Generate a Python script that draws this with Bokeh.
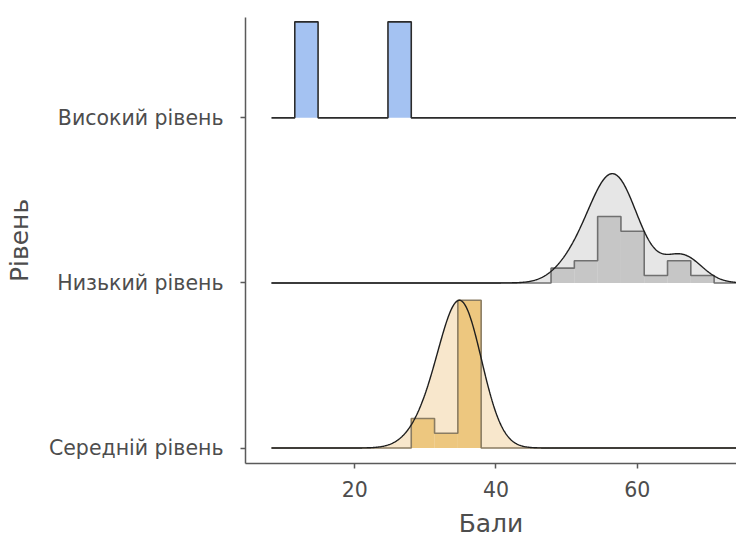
import numpy as np
from bokeh.plotting import figure
from bokeh.models import Range1d, FixedTicker
from bokeh.embed import file_html
from bokeh.resources import INLINE

# Levels, bottom to top
levels = ["Середній рівень", "Низький рівень", "Високий рівень"]

# Individual scores per level
scores_medium = [30.5, 31.2, 34.4,
                 34.6, 34.7, 34.8, 34.9, 35.0, 35.1, 35.3, 35.5, 35.8, 36.2]
scores_low = [50.0, 50.9,
              52.6, 53.5, 54.2,
              54.5, 54.8, 55.1, 55.4, 55.7, 56.0, 56.4, 56.8, 57.3,
              57.7, 57.8, 58.0, 58.2, 58.5, 59.0, 59.8,
              61.1,
              65.6, 66.0, 66.4,
              67.7]
scores_high = [13.0, 26.0]

x_ticks = [20, 40, 60]

# Histogram / density settings
BIN_START, BIN_WIDTH = 11.5, 3.3
RIDGE_SCALE = 0.895

edges = BIN_START + BIN_WIDTH * np.arange(-1, 20)
grid = np.linspace(edges[0], edges[-1], 800)


def kde(values, bw):
    v = np.asarray(values, dtype=float)
    z = (grid[:, None] - v[None, :]) / bw
    return np.exp(-0.5 * z ** 2).sum(axis=1) / (len(v) * bw * np.sqrt(2 * np.pi))


def hist_density(values):
    counts, _ = np.histogram(values, bins=edges)
    return counts / (len(values) * BIN_WIDTH)


rows = [
    dict(scores=scores_medium, pos=0, bw=2.9,
         dens_fill="#F8E7CC", hist_fill="#EDC77F", hist_line="#8a7c62"),
    dict(scores=scores_low, pos=1, bw=2.6,
         dens_fill="#E6E6E6", hist_fill="#C6C6C6", hist_line="#707070"),
    dict(scores=scores_high, pos=2, bw=None,
         dens_fill=None, hist_fill="#A4C2F2", hist_line="#2b2b2b"),
]

for r in rows:
    r["hist"] = hist_density(r["scores"])
    r["dens"] = kde(r["scores"], r["bw"]) if r["bw"] else None

hist_max = max(r["hist"].max() for r in rows)
dens_max = max(r["dens"].max() for r in rows if r["dens"] is not None)

p = figure(width=736, height=540,
           x_range=Range1d(4.52, 74.07), y_range=Range1d(-0.0938, 2.608),
           output_backend="svg", toolbar_location=None,
           min_border_left=245, min_border_right=0,
           min_border_top=17, min_border_bottom=77)

p.background_fill_color = "white"
p.border_fill_color = "white"
p.outline_line_color = None
p.xgrid.visible = False
p.ygrid.visible = False

# Draw from the top ridge down so lower ridges sit in front
for r in reversed(rows):
    base = r["pos"]
    h = r["hist"] / hist_max * RIDGE_SCALE
    if r["dens"] is not None:
        d = r["dens"] / dens_max * RIDGE_SCALE
        p.varea(x=grid, y1=np.full_like(grid, base), y2=base + d,
                fill_color=r["dens_fill"], fill_alpha=1.0)
    nz = h > 0
    p.quad(left=edges[:-1][nz], right=edges[1:][nz], bottom=base, top=base + h[nz],
           fill_color=r["hist_fill"], line_color=None)
    step_x = np.repeat(edges, 2)[1:-1]
    step_y = base + np.repeat(h, 2)
    p.line(step_x, step_y, line_color=r["hist_line"], line_width=1.6)
    if r["dens"] is not None:
        p.line(grid, base + d, line_color="#1f1f1f", line_width=1.4)

axis_color = "#5a5a5a"
label_color = "#4d4d4d"
font = "DejaVu Sans"

xa = p.xaxis[0]
xa.ticker = FixedTicker(ticks=x_ticks)
xa.axis_label = "Бали"
ya = p.yaxis[0]
ya.ticker = FixedTicker(ticks=[0, 1, 2])
ya.major_label_overrides = {i: name for i, name in enumerate(levels)}
ya.axis_label = "Рівень"

for ax in (xa, ya):
    ax.axis_line_color = axis_color
    ax.axis_line_width = 1.5
    ax.major_tick_line_color = axis_color
    ax.major_tick_line_width = 1.5
    ax.major_tick_out = 5
    ax.major_tick_in = 0
    ax.minor_tick_line_color = None
    ax.major_label_text_font = font
    ax.major_label_text_color = label_color
    ax.major_label_text_font_size = "20.5px"
    ax.axis_label_text_font = font
    ax.axis_label_text_font_style = "normal"
    ax.axis_label_text_color = label_color
    ax.axis_label_text_font_size = "25px"

xa.major_label_standoff = 12
xa.axis_label_standoff = 9
ya.major_label_standoff = 17
ya.axis_label_standoff = 12

open("out.html", "w").write(file_html(p, INLINE))
